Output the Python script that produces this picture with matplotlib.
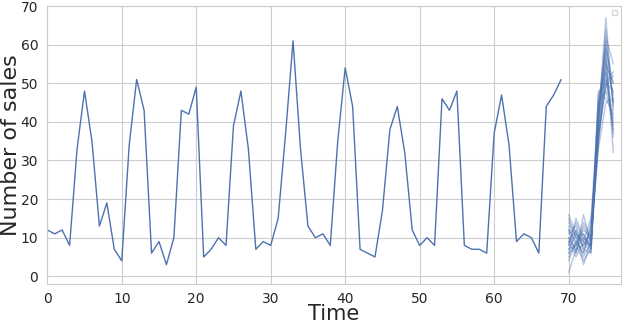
import matplotlib
matplotlib.use('Agg')
import matplotlib.pyplot as plt
import seaborn as sns

# observed sales, t = 0..69
sales = [12, 11, 12, 8, 33, 48, 35, 13, 19, 7,
         4, 34, 51, 43, 6, 9, 3, 10, 43, 42,
         49, 5, 7, 10, 8, 39, 48, 33, 7, 9,
         8, 15, 37, 61, 33, 13, 10, 11, 8, 35,
         54, 44, 7, 6, 5, 17, 38, 44, 32, 12,
         8, 10, 8, 46, 43, 48, 8, 7, 7, 6,
         37, 47, 34, 9, 11, 10, 6, 44, 47, 51]
t_obs = list(range(len(sales)))

# forecast sample paths, t = 70..76
t_fc = list(range(70, 77))
sample_paths = [
    [9, 12, 7, 10, 42, 60, 45],
    [6, 8, 11, 7, 38, 55, 50],
    [12, 9, 6, 14, 45, 48, 40],
    [1, 7, 10, 8, 35, 52, 38],
    [15, 10, 5, 9, 40, 67, 43],
    [8, 14, 9, 6, 44, 58, 32],
    [10, 6, 16, 8, 36, 50, 48],
    [7, 11, 8, 12, 39, 62, 55],
    [13, 8, 4, 7, 47, 53, 41],
    [5, 9, 12, 10, 33, 45, 46],
    [11, 13, 7, 6, 41, 57, 36],
    [9, 5, 9, 15, 37, 49, 52],
    [14, 10, 11, 8, 43, 64, 44],
    [6, 12, 3, 9, 46, 51, 39],
    [10, 7, 8, 11, 34, 56, 47],
    [8, 15, 10, 7, 48, 46, 42],
    [12, 6, 13, 9, 40, 59, 50],
    [4, 9, 6, 13, 38, 54, 37],
    [16, 11, 9, 8, 42, 61, 45],
    [7, 8, 14, 10, 36, 50, 53],
]

sns.set_style('whitegrid')
blue = '#4C72B0'

fig = plt.figure(figsize=(6.22, 3.22), dpi=100)
ax = fig.add_axes([0.076, 0.118, 0.922, 0.863])

ax.plot(t_obs, sales, color=blue, lw=1)
for path in sample_paths:
    ax.plot(t_fc, path, color=blue, lw=1, alpha=0.4)

ax.set_xlim(0, 77)
ax.set_ylim(-2, 70)
ax.set_xticks(range(0, 71, 10))
ax.set_yticks(range(0, 71, 10))
ax.tick_params(labelsize=10, colors='#262626', pad=3)
ax.tick_params(axis='x', pad=2)
ax.set_xlabel('Time', fontsize=15, labelpad=-1, color='#262626')
ax.set_ylabel('Number of sales', fontsize=16, labelpad=0, color='#262626')
ax.legend(handles=[], loc='upper right', fontsize=5)

fig.savefig('out.png', dpi=100)
